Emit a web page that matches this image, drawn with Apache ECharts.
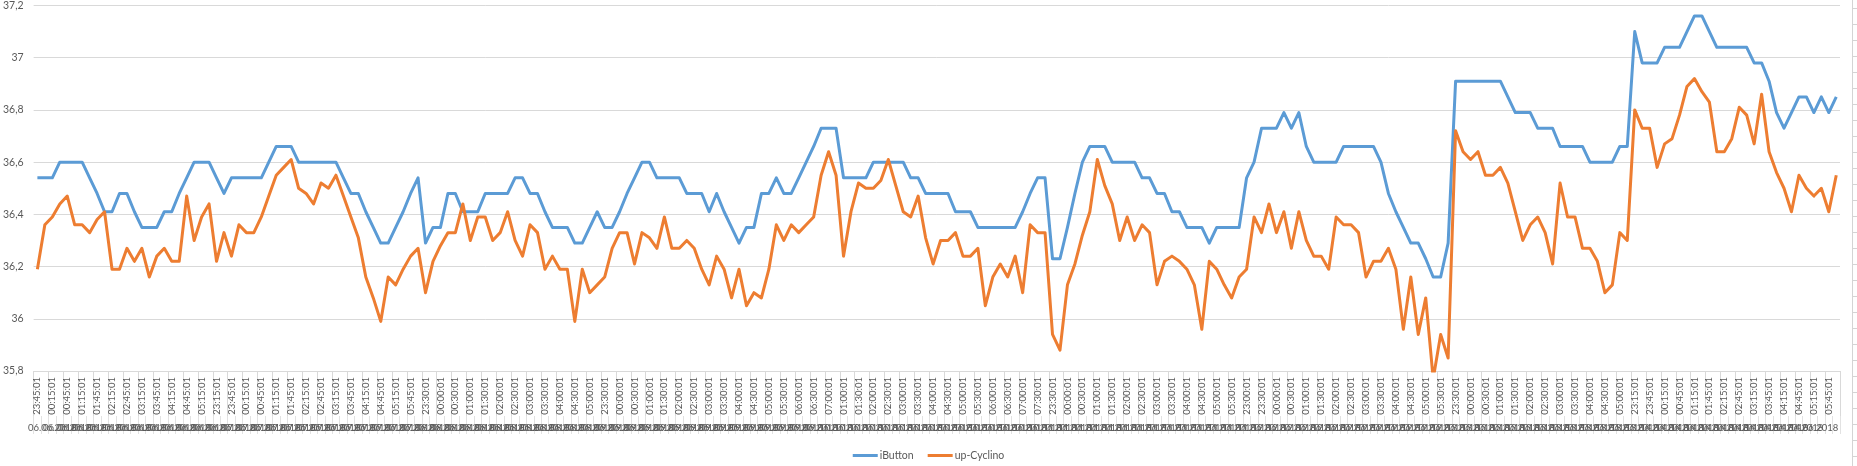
<!DOCTYPE html>
<html>
<head>
<meta charset="utf-8">
<script src="https://cdn.jsdelivr.net/npm/echarts@6/dist/echarts.min.js"></script>
<style>
  html, body { margin: 0; padding: 0; background: #fff; }
  #chart { width: 1857px; height: 466px; }
</style>
</head>
<body>
<div id="chart"></div>
<script>
// nights of measurement: first time stamp, number of 15-min readings, start date
const nightStart = ['23:45:01', '23:15:01', '23:30:01', '23:30:01', '01:00:01', '23:30:01', '23:00:01', '23:30:01', '23:15:01'];
const nightCount = [24, 28, 24, 32, 28, 26, 28, 24, 28];
const nightDate = ['05.06.2018', '06.06.2018', '07.06.2018', '08.06.2018', '10.06.2018', '10.06.2018', '11.06.2018', '12.06.2018', '13.06.2018'];

const yTicks = [35.8, 36, 36.2, 36.4, 36.6, 36.8, 37, 37.2];

const iButton = [
    36.54, 36.54, 36.54, 36.60, 36.60, 36.60, 36.60, 36.54, 36.48, 36.41,
    36.41, 36.48, 36.48, 36.41, 36.35, 36.35, 36.35, 36.41, 36.41, 36.48,
    36.54, 36.60, 36.60, 36.60, 36.54, 36.48, 36.54, 36.54, 36.54, 36.54,
    36.54, 36.60, 36.66, 36.66, 36.66, 36.60, 36.60, 36.60, 36.60, 36.60,
    36.60, 36.54, 36.48, 36.48, 36.41, 36.35, 36.29, 36.29, 36.35, 36.41,
    36.48, 36.54, 36.29, 36.35, 36.35, 36.48, 36.48, 36.41, 36.41, 36.41,
    36.48, 36.48, 36.48, 36.48, 36.54, 36.54, 36.48, 36.48, 36.41, 36.35,
    36.35, 36.35, 36.29, 36.29, 36.35, 36.41, 36.35, 36.35, 36.41, 36.48,
    36.54, 36.60, 36.60, 36.54, 36.54, 36.54, 36.54, 36.48, 36.48, 36.48,
    36.41, 36.48, 36.41, 36.35, 36.29, 36.35, 36.35, 36.48, 36.48, 36.54,
    36.48, 36.48, 36.54, 36.60, 36.66, 36.73, 36.73, 36.73, 36.54, 36.54,
    36.54, 36.54, 36.60, 36.60, 36.60, 36.60, 36.60, 36.54, 36.54, 36.48,
    36.48, 36.48, 36.48, 36.41, 36.41, 36.41, 36.35, 36.35, 36.35, 36.35,
    36.35, 36.35, 36.41, 36.48, 36.54, 36.54, 36.23, 36.23, 36.35, 36.48,
    36.60, 36.66, 36.66, 36.66, 36.60, 36.60, 36.60, 36.60, 36.54, 36.54,
    36.48, 36.48, 36.41, 36.41, 36.35, 36.35, 36.35, 36.29, 36.35, 36.35,
    36.35, 36.35, 36.54, 36.60, 36.73, 36.73, 36.73, 36.79, 36.73, 36.79,
    36.66, 36.60, 36.60, 36.60, 36.60, 36.66, 36.66, 36.66, 36.66, 36.66,
    36.60, 36.48, 36.41, 36.35, 36.29, 36.29, 36.23, 36.16, 36.16, 36.29,
    36.91, 36.91, 36.91, 36.91, 36.91, 36.91, 36.91, 36.85, 36.79, 36.79,
    36.79, 36.73, 36.73, 36.73, 36.66, 36.66, 36.66, 36.66, 36.60, 36.60,
    36.60, 36.60, 36.66, 36.66, 37.10, 36.98, 36.98, 36.98, 37.04, 37.04,
    37.04, 37.10, 37.16, 37.16, 37.10, 37.04, 37.04, 37.04, 37.04, 37.04,
    36.98, 36.98, 36.91, 36.79, 36.73, 36.79, 36.85, 36.85, 36.79, 36.85,
    36.79, 36.85
];

const upCyclino = [
    36.19, 36.36, 36.39, 36.44, 36.47, 36.36, 36.36, 36.33, 36.38, 36.41,
    36.19, 36.19, 36.27, 36.22, 36.27, 36.16, 36.24, 36.27, 36.22, 36.22,
    36.47, 36.30, 36.39, 36.44, 36.22, 36.33, 36.24, 36.36, 36.33, 36.33,
    36.39, 36.47, 36.55, 36.58, 36.61, 36.50, 36.48, 36.44, 36.52, 36.50,
    36.55, 36.47, 36.39, 36.31, 36.16, 36.08, 35.99, 36.16, 36.13, 36.19,
    36.24, 36.27, 36.10, 36.22, 36.28, 36.33, 36.33, 36.44, 36.30, 36.39,
    36.39, 36.30, 36.33, 36.41, 36.30, 36.24, 36.36, 36.33, 36.19, 36.24,
    36.19, 36.19, 35.99, 36.19, 36.10, 36.13, 36.16, 36.27, 36.33, 36.33,
    36.21, 36.33, 36.31, 36.27, 36.39, 36.27, 36.27, 36.30, 36.27, 36.19,
    36.13, 36.24, 36.19, 36.08, 36.19, 36.05, 36.10, 36.08, 36.19, 36.36,
    36.30, 36.36, 36.33, 36.36, 36.39, 36.55, 36.64, 36.55, 36.24, 36.41,
    36.52, 36.50, 36.50, 36.53, 36.61, 36.51, 36.41, 36.39, 36.47, 36.31,
    36.21, 36.30, 36.30, 36.33, 36.24, 36.24, 36.27, 36.05, 36.16, 36.21,
    36.16, 36.24, 36.10, 36.36, 36.33, 36.33, 35.94, 35.88, 36.13, 36.21,
    36.32, 36.41, 36.61, 36.51, 36.44, 36.30, 36.39, 36.30, 36.36, 36.33,
    36.13, 36.22, 36.24, 36.22, 36.19, 36.13, 35.96, 36.22, 36.19, 36.13,
    36.08, 36.16, 36.19, 36.39, 36.33, 36.44, 36.33, 36.41, 36.27, 36.41,
    36.30, 36.24, 36.24, 36.19, 36.39, 36.36, 36.36, 36.33, 36.16, 36.22,
    36.22, 36.27, 36.19, 35.96, 36.16, 35.94, 36.08, 35.77, 35.94, 35.85,
    36.72, 36.64, 36.61, 36.64, 36.55, 36.55, 36.58, 36.52, 36.41, 36.30,
    36.36, 36.39, 36.33, 36.21, 36.52, 36.39, 36.39, 36.27, 36.27, 36.22,
    36.10, 36.13, 36.33, 36.30, 36.80, 36.73, 36.73, 36.58, 36.67, 36.69,
    36.78, 36.89, 36.92, 36.87, 36.83, 36.64, 36.64, 36.69, 36.81, 36.78,
    36.67, 36.86, 36.64, 36.56, 36.50, 36.41, 36.55, 36.50, 36.47, 36.50,
    36.41, 36.55
];

// build the two-level category labels (time / date)
const times = [];
const dates = [];
function pad(n) { return (n < 10 ? '0' : '') + n; }
for (let k = 0; k < nightStart.length; k++) {
    let p = nightStart[k].split(':');
    let m = (+p[0]) * 60 + (+p[1]);
    let d = nightDate[k].split('.');
    for (let j = 0; j < nightCount[k]; j++) {
        let mm = m % 1440;
        times.push(pad(Math.floor(mm / 60)) + ':' + pad(mm % 60) + ':01');
        // readings after midnight belong to the next day
        dates.push(pad(+d[0] + Math.floor(m / 1440)) + '.' + d[1] + '.' + d[2]);
        m += 15;
    }
}

const chart = echarts.init(document.getElementById('chart'));

const FONT = 'Lato, "Liberation Sans", sans-serif';
const GREY = '#595959';

// right-hand sheet border left in the screenshot
const edge = [{ type: 'line', shape: { x1: 1852.5, y1: 0, x2: 1852.5, y2: 466 }, style: { stroke: '#d4d4d4', lineWidth: 1 } }];
for (let y = 8.5; y < 466; y += 16) {
    edge.push({ type: 'line', shape: { x1: 1852.5, y1: y, x2: 1857, y2: y }, style: { stroke: '#d4d4d4', lineWidth: 1 } });
}

const option = {
    animation: false,
    backgroundColor: '#ffffff',
    textStyle: { fontFamily: FONT },
    grid: { left: 32, right: 17, top: 4, bottom: 95, containLabel: false },
    legend: {
        data: ['iButton', 'up-Cyclino'],
        left: 'center',
        top: 445,
        icon: 'rect',
        itemWidth: 25,
        itemHeight: 3,
        itemGap: 14,
        textStyle: { fontFamily: FONT, fontSize: 10.5, color: GREY, padding: [0, 0, 0, -3] }
    },
    xAxis: [{
        type: 'category',
        data: times,
        boundaryGap: true,
        axisLine: { lineStyle: { color: '#d9d9d9', width: 1 } },
        axisTick: { show: true, interval: 1, length: 45, lineStyle: { color: '#d9d9d9' } },
        axisLabel: { interval: 1, rotate: 90, margin: 6, fontFamily: FONT, fontSize: 9.5, color: GREY },
        splitLine: { show: false }
    }, {
        type: 'category',
        data: dates,
        position: 'bottom',
        offset: 45,
        boundaryGap: true,
        axisLine: { show: false },
        axisTick: { show: true, interval: 0, length: 18, lineStyle: { color: '#e2e2e2' } },
        axisLabel: { interval: 1, margin: 7, fontFamily: FONT, fontSize: 9.5, color: GREY, hideOverlap: false },
        splitLine: { show: false }
    }],
    yAxis: {
        type: 'value',
        min: yTicks[0],
        max: yTicks[yTicks.length - 1],
        interval: 0.2,
        axisLine: { show: false },
        axisTick: { show: false },
        splitLine: { lineStyle: { color: '#d9d9d9', width: 1 } },
        axisLabel: {
            margin: 10,
            fontFamily: FONT,
            fontSize: 10.5,
            color: GREY,
            formatter: function (v) { return String(+v.toFixed(1)).replace('.', ','); }
        }
    },
    series: [{
        name: 'iButton',
        type: 'line',
        data: iButton,
        showSymbol: false,
        clip: true,
        itemStyle: { color: '#5b9bd5' },
        lineStyle: { color: '#5b9bd5', width: 3, join: 'round' }
    }, {
        name: 'up-Cyclino',
        type: 'line',
        data: upCyclino,
        showSymbol: false,
        clip: true,
        itemStyle: { color: '#ed7d31' },
        lineStyle: { color: '#ed7d31', width: 3, join: 'round' }
    }],
    graphic: edge
};

chart.setOption(option);
</script>
</body>
</html>
